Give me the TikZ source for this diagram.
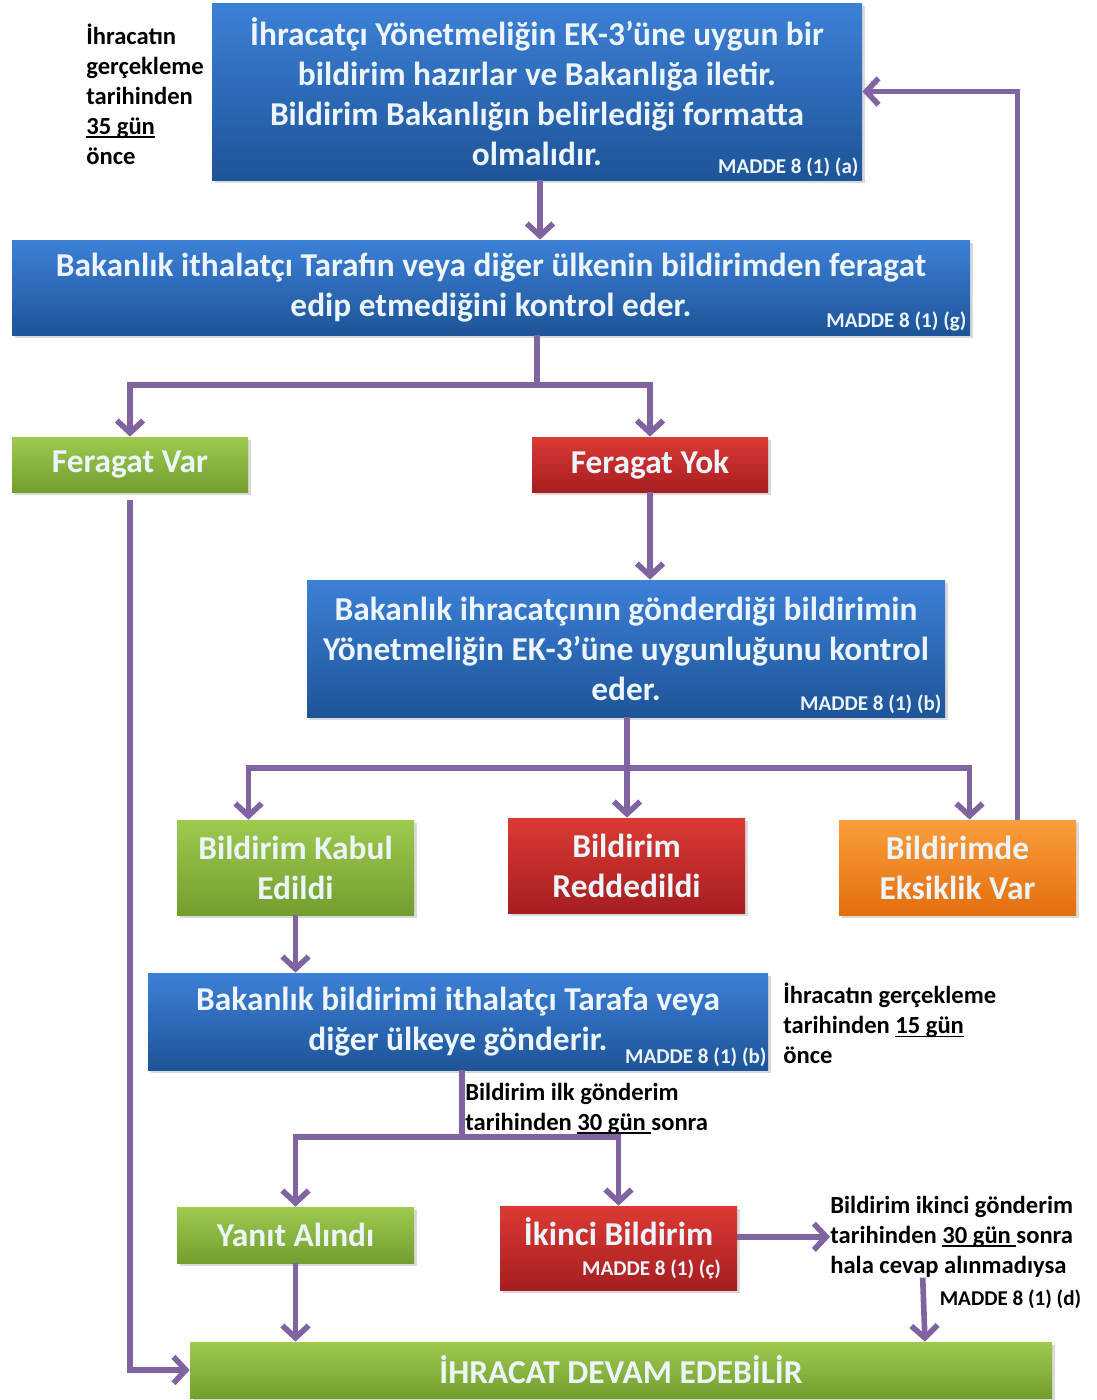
\documentclass[tikz,border=0pt]{standalone}
\usepackage{fontspec}
\setmainfont{Carlito}
\usepackage{tikz}
\usetikzlibrary{arrows.meta,positioning,calc,shadows}

\definecolor{mor}{RGB}{128,100,162}
\definecolor{yazi}{RGB}{236,244,252}
\definecolor{maviust}{RGB}{60,128,214}
\definecolor{mavialt}{RGB}{30,84,152}
\definecolor{yesilust}{RGB}{158,202,80}
\definecolor{yesilalt}{RGB}{114,158,46}
\definecolor{kirmiziust}{RGB}{220,58,52}
\definecolor{kirmizialt}{RGB}{166,30,32}
\definecolor{turuncuust}{RGB}{250,158,60}
\definecolor{turuncualt}{RGB}{228,110,14}
\newcommand{\altciz}[1]{\setbox0\hbox{#1}\rlap{\rule[-1.8pt]{\wd0}{0.8pt}}\box0}

\begin{document}
\begin{tikzpicture}[x=0.02cm,y=-0.02cm]
\tikzstyle{ok}=[-{Straight Barb[length=7pt,width=15pt]},line width=3.2pt,color=mor]
\tikzstyle{cizgi}=[line width=3.2pt,color=mor]
\tikzstyle{kutu}=[rectangle,inner sep=0pt,align=center,text=yazi,font=\bfseries\fontsize{19}{22.8}\selectfont,drop shadow={shadow xshift=1.5pt,shadow yshift=-1.5pt,opacity=0.3}]
\tikzstyle{mavi}=[kutu,top color=maviust,bottom color=mavialt]
\tikzstyle{yesil}=[kutu,top color=yesilust,bottom color=yesilalt]
\tikzstyle{kirmizi}=[kutu,top color=kirmiziust,bottom color=kirmizialt]
\tikzstyle{turuncu}=[kutu,top color=turuncuust,bottom color=turuncualt]
\tikzstyle{madde}=[inner sep=2pt,text=yazi,font=\bfseries\fontsize{12}{14}\selectfont]
\tikzstyle{not}=[inner sep=0pt,align=left,text=black,font=\bfseries\fontsize{14}{17}\selectfont]
\def\Birim{0.02cm}
\useasboundingbox (0,0) rectangle (1097,1400);
% kutular
\node[mavi,minimum width=650*\Birim,minimum height=177*\Birim] (Hazirlar) at (537,91.5) {İhracatçı Yönetmeliğin EK-3’üne uygun bir\\bildirim hazırlar ve Bakanlığa iletir.\\Bildirim Bakanlığın belirlediği formatta\\olmalıdır.};
\node[mavi,minimum width=958*\Birim,minimum height=95*\Birim] (Kontrol) at (491,287.5) {Bakanlık ithalatçı Tarafın veya diğer ülkenin bildirimden feragat\\edip etmediğini kontrol eder.};
\node[yesil,minimum width=236*\Birim,minimum height=55*\Birim] (FeragatVar) at (130,464.5) {Feragat Var};
\node[kirmizi,minimum width=236*\Birim,minimum height=55*\Birim] (FeragatYok) at (650,464.5) {Feragat Yok};
\node[mavi,minimum width=638*\Birim,minimum height=137*\Birim] (Uygunluk) at (626,648.5) {Bakanlık ihracatçının gönderdiği bildirimin\\Yönetmeliğin EK-3’üne uygunluğunu kontrol\\eder.};
\node[yesil,minimum width=237*\Birim,minimum height=95*\Birim] (Kabul) at (295.5,867.5) {Bildirim Kabul\\Edildi};
\node[kirmizi,minimum width=237*\Birim,minimum height=95*\Birim] (Red) at (626.5,865.5) {Bildirim\\Reddedildi};
\node[turuncu,minimum width=237*\Birim,minimum height=95*\Birim] (Eksiklik) at (957.5,867.5) {Bildirimde\\Eksiklik Var};
\node[mavi,minimum width=620*\Birim,minimum height=97*\Birim] (Gonderir) at (458,1021.5) {Bakanlık bildirimi ithalatçı Tarafa veya\\diğer ülkeye gönderir.};
\node[yesil,minimum width=237*\Birim,minimum height=56*\Birim] (Yanit) at (295.5,1235) {Yanıt Alındı};
\node[kirmizi,minimum width=237*\Birim,minimum height=84*\Birim] (Ikinci) at (618.5,1248) {İkinci Bildirim\\[-5.8pt]\hspace*{1.32cm}{\fontsize{12}{14}\selectfont MADDE 8 (1) (ç)}};
\node[yesil,minimum width=862*\Birim,minimum height=56*\Birim] (Devam) at (621,1370) {İHRACAT DEVAM EDEBİLİR};
% madde etiketleri
\node[madde,anchor=south east] (MaddeA) at (Hazirlar.south east) {MADDE 8 (1) (a)};
\node[madde,anchor=south east] (MaddeG) at (Kontrol.south east) {MADDE 8 (1) (g)};
\node[madde,anchor=south east] (MaddeB) at (Uygunluk.south east) {MADDE 8 (1) (b)};
\node[madde,anchor=south east] (MaddeB2) at ($(Gonderir.south east)+(2,0)$) {MADDE 8 (1) (b)};
% notlar
\node[not,anchor=north west] (Not35) at (86,24) {İhracatın\\gerçekleme\\tarihinden\\\altciz{35 gün}\\önce};
\node[not,anchor=north west] (Not15) at (783,983) {İhracatın gerçekleme\\tarihinden \altciz{15 gün}\\önce};
\node[not,anchor=north west] (Not30) at (465,1083) {Bildirim ilk gönderim\\tarihinden \altciz{30 gün }sonra};
\node[not,anchor=north west] (IkinciNot) at (830,1196) {Bildirim ikinci gönderim\\tarihinden \altciz{30 gün }sonra\\hala cevap alınmadıysa};
\node[madde,anchor=north east,text=black] (MaddeD) at (1085,1286) {MADDE 8 (1) (d)};
% baglantilar
\coordinate (Ayrim1) at (537,385);
\coordinate (Ayrim2) at (627,768);
\coordinate (Ayrim3) at (462,1137);
\draw[ok] (Hazirlar.south -| 540,0) -- (Kontrol.north -| 540,0);
\draw[cizgi] (Kontrol.south -| Ayrim1) -- (Ayrim1);
\draw[ok] (Ayrim1) -| (FeragatVar.north);
\draw[ok] (Ayrim1) -| (FeragatYok.north);
\draw[ok] (FeragatYok.south) -- (FeragatYok.south |- Uygunluk.north);
\draw[ok,shorten <=0.16cm] (FeragatVar.south) |- (Devam.west);
\draw[cizgi] (Uygunluk.south -| Ayrim2) -- (Ayrim2);
\draw[ok] (Ayrim2) -| ($(Kabul.north)+(-47,0)$);
\draw[ok] (Ayrim2) -- (Red.north -| Ayrim2);
\draw[ok] (Ayrim2) -| ($(Eksiklik.north)+(12,0)$);
\draw[ok] ($(Eksiklik.north)+(60,0)$) |- (Hazirlar.east);
\draw[ok] (Kabul.south) -- (Kabul.south |- Gonderir.north);
\draw[cizgi] (Gonderir.south -| Ayrim3) -- (Ayrim3);
\draw[ok] (Ayrim3) -| (Yanit.north);
\draw[ok] (Ayrim3) -| (Ikinci.north);
\draw[ok] (Yanit.south) -- (Yanit.south |- Devam.north);
\draw[ok] (Ikinci.east |- IkinciNot.west) -- (IkinciNot.west);
\draw[ok] ($(IkinciNot.south)+(-29,0)$) -- (Devam.north -| 925,0);
\end{tikzpicture}
\end{document}
